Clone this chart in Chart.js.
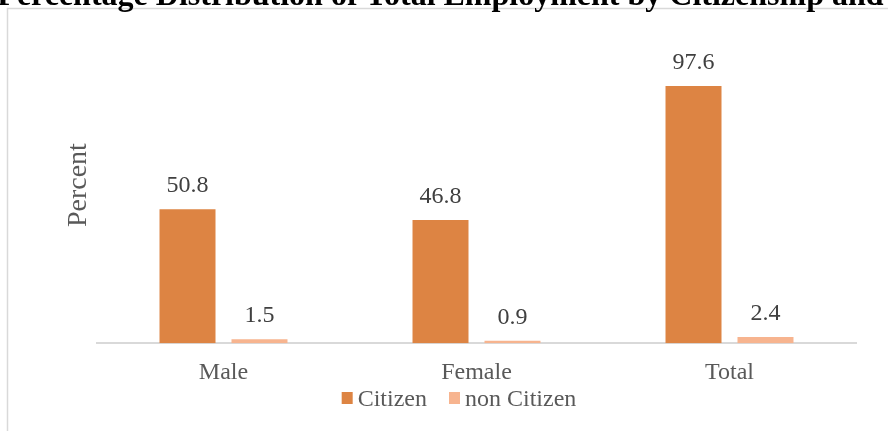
<!DOCTYPE html>
<html>
<head>
<meta charset="utf-8">
<script src="https://cdn.jsdelivr.net/npm/chart.js@4"></script>
<style>
  html, body { margin: 0; padding: 0; background: #fff; }
  #wrap { width: 888px; height: 431px; }
</style>
</head>
<body>
<div id="wrap"><canvas id="c" width="888" height="431"></canvas></div>
<script>
const categories = ['Male', 'Female', 'Total'];
const citizen = [50.8, 46.8, 97.6];
const nonCitizen = [1.5, 0.9, 2.4];
const seriesNames = ['Citizen', 'non Citizen'];
const seriesColors = ['#DD8443', '#F7B48F'];
const titleText = 'Percentage Distribution of Total Employment by Citizenship and Gender';
const yTitle = 'Percent';

const SERIF = '"Liberation Serif", "Times New Roman", serif';

const decorPlugin = {
  id: 'decor',
  beforeDraw(chart) {
    const ctx = chart.ctx;
    ctx.save();
    ctx.fillStyle = '#ffffff';
    ctx.fillRect(0, 0, chart.width, chart.height);
    // frame
    ctx.strokeStyle = '#d9d9d9';
    ctx.lineWidth = 1.5;
    ctx.strokeRect(7.5, 8.5, 950, 440);
    // title (clipped at top)
    ctx.font = 'bold 32px ' + SERIF;
    ctx.fillStyle = '#000000';
    ctx.textBaseline = 'alphabetic';
    ctx.textAlign = 'left';
    const w = ctx.measureText('Percentage Distribution of Total Employment by Citizenship').width;
    ctx.fillText(titleText, 824 - w, 5);
    // y title
    const ca = chart.chartArea;
    ctx.font = '28px ' + SERIF;
    ctx.fillStyle = '#595959';
    ctx.textAlign = 'center';
    ctx.textBaseline = 'middle';
    ctx.translate(79, (ca.top + ca.bottom) / 2);
    ctx.rotate(-Math.PI / 2);
    ctx.fillText(yTitle, 0, 0);
    ctx.restore();
  },
  afterDatasetsDraw(chart) {
    const ctx = chart.ctx;
    ctx.save();
    ctx.font = '24px ' + SERIF;
    ctx.fillStyle = '#404040';
    ctx.textAlign = 'center';
    ctx.textBaseline = 'alphabetic';
    chart.data.datasets.forEach((ds, i) => {
      const meta = chart.getDatasetMeta(i);
      meta.data.forEach((bar, j) => {
        ctx.fillText(ds.data[j].toFixed(1), bar.x, bar.y - 17);
      });
    });
    ctx.restore();
  },
  afterDraw(chart) {
    // legend
    const ctx = chart.ctx;
    ctx.save();
    ctx.font = '24px ' + SERIF;
    ctx.textBaseline = 'alphabetic';
    ctx.textAlign = 'left';
    const box = 11, textGap = 5, itemGap = 22;
    const widths = chart.data.datasets.map(ds => ctx.measureText(ds.label).width);
    let total = 0;
    widths.forEach((w, i) => { total += box + textGap + w + (i ? itemGap : 0); });
    let x = 459 - total / 2;
    chart.data.datasets.forEach((ds, i) => {
      ctx.fillStyle = ds.backgroundColor;
      ctx.fillRect(x, 392, box, 12);
      ctx.fillStyle = '#595959';
      ctx.fillText(ds.label, x + box + textGap, 406);
      x += box + textGap + widths[i] + itemGap;
    });
    ctx.restore();
  }
};

new Chart(document.getElementById('c'), {
  type: 'bar',
  data: {
    labels: categories,
    datasets: [
      { label: seriesNames[0], data: citizen, backgroundColor: seriesColors[0], borderWidth: 0 },
      { label: seriesNames[1], data: nonCitizen, backgroundColor: seriesColors[1], borderWidth: 0 }
    ]
  },
  options: {
    responsive: false,
    animation: false,
    devicePixelRatio: 1,
    layout: { padding: { left: 30, right: 0, top: 27, bottom: 29 } },
    datasets: { bar: { categoryPercentage: 0.569, barPercentage: 0.778 } },
    scales: {
      x: {
        grid: { display: false, drawTicks: false },
        border: { display: true, color: '#d9d9d9', width: 2 },
        ticks: { color: '#595959', font: { family: SERIF, size: 24 }, padding: 15 }
      },
      y: {
        position: 'left',
        min: 0, max: 120,
        grid: { display: false, drawTicks: false },
        border: { display: false },
        ticks: { display: false },
        afterFit(s) { s.width = 67; }
      },
      y2: {
        position: 'right',
        min: 0, max: 120,
        grid: { display: false, drawTicks: false },
        border: { display: false },
        ticks: { display: false },
        afterFit(s) { s.width = 32; }
      }
    },
    plugins: {
      legend: { display: false },
      tooltip: { enabled: false },
      title: { display: false }
    }
  },
  plugins: [decorPlugin]
});
</script>
</body>
</html>
